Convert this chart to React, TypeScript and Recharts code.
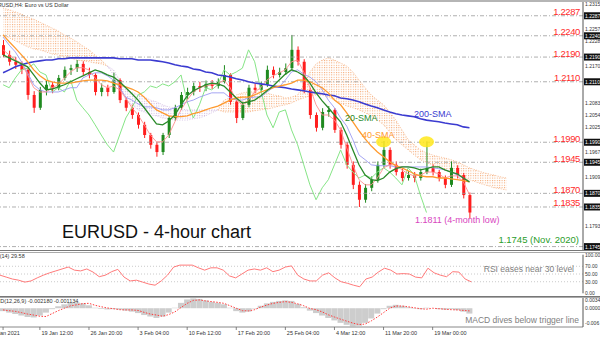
import React from 'react';
import { ComposedChart, Bar, Line, Area, XAxis, YAxis, ReferenceLine, ReferenceDot } from 'recharts';

// 4h candles grouped by 4 (one slot = 16h)
const opens = [1.2218, 1.2195, 1.2179, 1.2172, 1.2160, 1.2101, 1.2071, 1.2113, 1.2125, 1.2118,
  1.2141, 1.2160, 1.2164, 1.2174, 1.2155, 1.2148, 1.2108, 1.2118, 1.2108, 1.2136,
  1.2089, 1.2071, 1.2054, 1.2031, 1.2007, 1.1984, 1.1967, 1.2007, 1.2047, 1.2071,
  1.2101, 1.2108, 1.2122, 1.2118, 1.2127, 1.2122, 1.2132, 1.2148, 1.2085, 1.2047,
  1.2078, 1.2118, 1.2113, 1.2125, 1.2160, 1.2148, 1.2155, 1.2164, 1.2207, 1.2179,
  1.2113, 1.2054, 1.2024, 1.2061, 1.2066, 1.2019, 1.1984, 1.1937, 1.1890, 1.1855,
  1.1883, 1.1902, 1.1937, 1.1972, 1.1937, 1.1920, 1.1906, 1.1913, 1.1906, 1.1920,
  1.1930, 1.1920, 1.1906, 1.1890, 1.1930, 1.1913, 1.1866];
const highs = [1.2230, 1.2205, 1.2190, 1.2180, 1.2165, 1.2110, 1.2120, 1.2135, 1.2132, 1.2148,
  1.2168, 1.2172, 1.2183, 1.2180, 1.2165, 1.2152, 1.2128, 1.2125, 1.2153, 1.2140,
  1.2095, 1.2078, 1.2060, 1.2038, 1.2012, 1.1990, 1.2012, 1.2052, 1.2078, 1.2108,
  1.2118, 1.2130, 1.2132, 1.2135, 1.2136, 1.2140, 1.2171, 1.2152, 1.2090, 1.2085,
  1.2125, 1.2128, 1.2132, 1.2170, 1.2168, 1.2165, 1.2175, 1.2242, 1.2215, 1.2185,
  1.2118, 1.2060, 1.2070, 1.2075, 1.2070, 1.2025, 1.1990, 1.1945, 1.1898, 1.1892,
  1.1910, 1.1945, 1.1993, 1.1978, 1.1945, 1.1928, 1.1922, 1.1920, 1.1928, 1.1992,
  1.1938, 1.1925, 1.1912, 1.1945, 1.1936, 1.1918, 1.1872];
const lows = [1.2190, 1.2170, 1.2162, 1.2150, 1.2090, 1.2059, 1.2066, 1.2100, 1.2105, 1.2112,
  1.2135, 1.2148, 1.2155, 1.2148, 1.2140, 1.2100, 1.2098, 1.2098, 1.2104, 1.2082,
  1.2063, 1.2045, 1.2022, 1.2000, 1.1975, 1.1956, 1.1960, 1.2000, 1.2040, 1.2066,
  1.2092, 1.2100, 1.2108, 1.2110, 1.2115, 1.2116, 1.2128, 1.2078, 1.2035, 1.2042,
  1.2072, 1.2105, 1.2106, 1.2120, 1.2140, 1.2142, 1.2148, 1.2160, 1.2170, 1.2105,
  1.2045, 1.2015, 1.2018, 1.2050, 1.2012, 1.1975, 1.1928, 1.1880, 1.1838, 1.1848,
  1.1875, 1.1895, 1.1930, 1.1928, 1.1912, 1.1898, 1.1900, 1.1896, 1.1900, 1.1915,
  1.1912, 1.1898, 1.1882, 1.1885, 1.1905, 1.1858, 1.1811];
const closes = [1.2195, 1.2179, 1.2172, 1.2160, 1.2101, 1.2071, 1.2113, 1.2125, 1.2118, 1.2141,
  1.2160, 1.2164, 1.2174, 1.2155, 1.2148, 1.2108, 1.2118, 1.2108, 1.2136, 1.2089,
  1.2071, 1.2054, 1.2031, 1.2007, 1.1984, 1.1967, 1.2007, 1.2047, 1.2071, 1.2101,
  1.2108, 1.2122, 1.2118, 1.2127, 1.2122, 1.2132, 1.2148, 1.2085, 1.2047, 1.2078,
  1.2118, 1.2113, 1.2125, 1.2160, 1.2148, 1.2155, 1.2164, 1.2207, 1.2179, 1.2113,
  1.2054, 1.2024, 1.2061, 1.2066, 1.2019, 1.1984, 1.1937, 1.1890, 1.1855, 1.1883,
  1.1902, 1.1937, 1.1972, 1.1937, 1.1920, 1.1906, 1.1913, 1.1906, 1.1920, 1.1930,
  1.1920, 1.1906, 1.1890, 1.1930, 1.1913, 1.1866, 1.1825];

const sma20 = [1.2195, 1.2188, 1.2181, 1.2174, 1.2167, 1.2148, 1.2129, 1.2113, 1.2115, 1.2120,
  1.2125, 1.2132, 1.2139, 1.2146, 1.2153, 1.2160, 1.2155, 1.2148, 1.2143, 1.2132,
  1.2118, 1.2104, 1.2089, 1.2071, 1.2052, 1.2033, 1.2031, 1.2040, 1.2054, 1.2078,
  1.2099, 1.2111, 1.2118, 1.2125, 1.2129, 1.2127, 1.2122, 1.2108, 1.2094, 1.2082,
  1.2085, 1.2089, 1.2099, 1.2111, 1.2122, 1.2136, 1.2150, 1.2160, 1.2155, 1.2146,
  1.2129, 1.2106, 1.2087, 1.2071, 1.2054, 1.2038, 1.2007, 1.1972, 1.1937, 1.1913,
  1.1902, 1.1900, 1.1906, 1.1920, 1.1928, 1.1932, 1.1932, 1.1930, 1.1925, 1.1928,
  1.1932, 1.1932, 1.1925, 1.1920, 1.1916, 1.1906, 1.1897];
const sma40 = [1.2242, 1.2226, 1.2211, 1.2195, 1.2179, 1.2160, 1.2146, 1.2136, 1.2132, 1.2129,
  1.2129, 1.2129, 1.2132, 1.2134, 1.2136, 1.2136, 1.2136, 1.2134, 1.2129, 1.2125,
  1.2120, 1.2115, 1.2108, 1.2096, 1.2080, 1.2066, 1.2059, 1.2052, 1.2050, 1.2050,
  1.2052, 1.2057, 1.2061, 1.2066, 1.2071, 1.2075, 1.2082, 1.2089, 1.2094, 1.2096,
  1.2096, 1.2101, 1.2108, 1.2113, 1.2118, 1.2122, 1.2125, 1.2129, 1.2136, 1.2136,
  1.2132, 1.2125, 1.2118, 1.2106, 1.2089, 1.2078, 1.2059, 1.2038, 1.2017, 1.1998,
  1.1981, 1.1967, 1.1956, 1.1944, 1.1935, 1.1930, 1.1923, 1.1916, 1.1911, 1.1909,
  1.1909, 1.1906, 1.1906, 1.1904, 1.1902, 1.1900, 1.1897];
const sma200 = [1.2153, 1.2160, 1.2167, 1.2172, 1.2176, 1.2179, 1.2181, 1.2183, 1.2183, 1.2186,
  1.2186, 1.2188, 1.2188, 1.2188, 1.2188, 1.2188, 1.2188, 1.2188, 1.2188, 1.2186,
  1.2186, 1.2186, 1.2183, 1.2183, 1.2183, 1.2181, 1.2179, 1.2176, 1.2172, 1.2169,
  1.2167, 1.2162, 1.2160, 1.2155, 1.2153, 1.2148, 1.2146, 1.2143, 1.2139, 1.2136,
  1.2132, 1.2129, 1.2127, 1.2125, 1.2122, 1.2120, 1.2118, 1.2115, 1.2113, 1.2111,
  1.2108, 1.2106, 1.2104, 1.2101, 1.2099, 1.2094, 1.2092, 1.2089, 1.2085, 1.2080,
  1.2075, 1.2071, 1.2066, 1.2061, 1.2057, 1.2054, 1.2052, 1.2050, 1.2045, 1.2042,
  1.2040, 1.2038, 1.2035, 1.2033, 1.2031, 1.2026, 1.2024];

// ichimoku
const tenkan = [1.2207, 1.2195, 1.2183, 1.2176, 1.2148, 1.2118, 1.2108, 1.2108, 1.2118, 1.2125,
  1.2141, 1.2155, 1.2165, 1.2165, 1.2160, 1.2141, 1.2125, 1.2118, 1.2122, 1.2113,
  1.2094, 1.2071, 1.2054, 1.2031, 1.2007, 1.1991, 1.1991, 1.2007, 1.2038, 1.2066,
  1.2089, 1.2108, 1.2118, 1.2122, 1.2125, 1.2127, 1.2136, 1.2118, 1.2089, 1.2078,
  1.2089, 1.2108, 1.2118, 1.2136, 1.2146, 1.2153, 1.2160, 1.2179, 1.2183, 1.2155,
  1.2118, 1.2078, 1.2054, 1.2054, 1.2042, 1.2019, 1.1977, 1.1937, 1.1902, 1.1890,
  1.1890, 1.1906, 1.1930, 1.1937, 1.1937, 1.1925, 1.1916, 1.1911, 1.1913, 1.1920,
  1.1920, 1.1916, 1.1906, 1.1911, 1.1911, 1.1897, 1.1867];
const kijun = [1.2237, 1.2218, 1.2202, 1.2179, 1.2153, 1.2125, 1.2113, 1.2108, 1.2108, 1.2108,
  1.2113, 1.2118, 1.2118, 1.2141, 1.2148, 1.2153, 1.2153, 1.2146, 1.2136, 1.2118,
  1.2096, 1.2089, 1.2080, 1.2073, 1.2073, 1.2071, 1.2066, 1.2066, 1.2071, 1.2078,
  1.2085, 1.2089, 1.2096, 1.2101, 1.2106, 1.2106, 1.2106, 1.2094, 1.2089, 1.2089,
  1.2094, 1.2096, 1.2096, 1.2108, 1.2118, 1.2120, 1.2136, 1.2155, 1.2160, 1.2150,
  1.2143, 1.2132, 1.2113, 1.2089, 1.2071, 1.2047, 1.2028, 1.1996, 1.1960, 1.1949,
  1.1937, 1.1935, 1.1935, 1.1935, 1.1932, 1.1932, 1.1932, 1.1932, 1.1932, 1.1932,
  1.1930, 1.1928, 1.1925, 1.1920, 1.1913, 1.1906, 1.1897];
const spanA = [1.2305, 1.2301, 1.2296, 1.2291, 1.2284, 1.2279, 1.2272, 1.2265, 1.2258, 1.2251,
  1.2242, 1.2235, 1.2226, 1.2216, 1.2207, 1.2195, 1.2183, 1.2169, 1.2148, 1.2118,
  1.2089, 1.2078, 1.2066, 1.2061, 1.2054, 1.2052, 1.2047, 1.2045, 1.2042, 1.2042,
  1.2042, 1.2045, 1.2047, 1.2052, 1.2059, 1.2066, 1.2089, 1.2094, 1.2101, 1.2106,
  1.2108, 1.2108, 1.2108, 1.2106, 1.2101, 1.2099, 1.2094, 1.2096, 1.2101, 1.2125,
  1.2155, 1.2174, 1.2183, 1.2188, 1.2183, 1.2176, 1.2169, 1.2155, 1.2136, 1.2118,
  1.2101, 1.2089, 1.2078, 1.2061, 1.2042, 1.2019, 1.1996, 1.1984, 1.1972, 1.1965,
  1.1960, 1.1956, 1.1953, 1.1949, 1.1944, 1.1937, 1.1930, 1.1925, 1.1920, 1.1916,
  1.1913, 1.1909, 1.1906];
const spanB = [1.2242, 1.2235, 1.2228, 1.2221, 1.2214, 1.2209, 1.2207, 1.2202, 1.2197, 1.2195,
  1.2190, 1.2188, 1.2183, 1.2181, 1.2179, 1.2176, 1.2174, 1.2169, 1.2160, 1.2136,
  1.2113, 1.2108, 1.2101, 1.2096, 1.2089, 1.2085, 1.2078, 1.2073, 1.2071, 1.2068,
  1.2066, 1.2066, 1.2066, 1.2066, 1.2066, 1.2066, 1.2061, 1.2061, 1.2061, 1.2061,
  1.2061, 1.2064, 1.2066, 1.2068, 1.2071, 1.2075, 1.2078, 1.2082, 1.2089, 1.2094,
  1.2099, 1.2101, 1.2101, 1.2096, 1.2089, 1.2082, 1.2075, 1.2071, 1.2066, 1.2059,
  1.2052, 1.2042, 1.2031, 1.2014, 1.1996, 1.1984, 1.1972, 1.1960, 1.1949, 1.1942,
  1.1937, 1.1930, 1.1925, 1.1920, 1.1913, 1.1906, 1.1902, 1.1897, 1.1892, 1.1888,
  1.1883, 1.1881, 1.1878];

const rsi = [47, 42, 37, 34, 29, 32, 40, 47, 53, 58,
  63, 68, 60, 58, 63, 55, 43, 47, 56, 62,
  42, 32, 34, 29, 24, 21, 32, 47, 68, 73,
  73, 73, 66, 60, 66, 66, 60, 45, 40, 50,
  60, 63, 60, 66, 56, 60, 68, 71, 47, 37,
  32, 32, 47, 53, 40, 30, 26, 21, 17, 37,
  42, 55, 65, 60, 50, 51, 50, 42, 40, 65,
  53, 47, 43, 56, 55, 37, 29.58];
const macd = [-0.0012, -0.0018, -0.0024, -0.0030, -0.0036, -0.0038, -0.0030, -0.0018, -0.0004, 0.0008,
  0.0016, 0.0022, 0.0024, 0.0020, 0.0012, 0.0002, -0.0003, -0.0005, -0.0004, -0.0006,
  -0.0010, -0.0014, -0.0020, -0.0028, -0.0034, -0.0040, -0.0034, -0.0018, 0.0002, 0.0022,
  0.0036, 0.0040, 0.0038, 0.0032, 0.0026, 0.0022, 0.0016, 0.0002, -0.0012, -0.0018,
  -0.0014, -0.0002, 0.0010, 0.0020, 0.0026, 0.0030, 0.0032, 0.0030, 0.0018, 0.0004,
  -0.0010, -0.0020, -0.0030, -0.0040, -0.0050, -0.0060, -0.0068, -0.0074, -0.0072, -0.0060,
  -0.0042, -0.0022, -0.0004, 0.0010, 0.0014, 0.0010, 0.0004, -0.0002, -0.0004, 0.0002,
  0.0000, -0.0004, -0.0006, -0.0004, -0.0008, -0.0014, -0.0022];
const signal = [-0.0007, -0.0010, -0.0013, -0.0018, -0.0024, -0.0028, -0.0033, -0.0034, -0.0022, -0.0010,
  0.0000, 0.0010, 0.0014, 0.0019, 0.0020, 0.0012, 0.0006, 0.0001, -0.0002, -0.0006,
  -0.0007, -0.0007, -0.0009, -0.0017, -0.0024, -0.0028, -0.0033, -0.0026, -0.0015, 0.0003,
  0.0020, 0.0032, 0.0034, 0.0030, 0.0027, 0.0024, 0.0020, 0.0010, 0.0000, -0.0010,
  -0.0011, -0.0006, 0.0005, 0.0013, 0.0020, 0.0024, 0.0027, 0.0024, 0.0018, 0.0010,
  -0.0001, -0.0006, -0.0015, -0.0027, -0.0036, -0.0045, -0.0053, -0.0061, -0.0067, -0.0065,
  -0.0052, -0.0036, -0.0018, 0.0000, 0.0009, 0.0009, 0.0006, 0.0002, -0.0002, -0.0004,
  0.0000, -0.0002, -0.0004, -0.0006, -0.0007, -0.0009, -0.0011];

const dateTicks = [0, 6, 14, 22, 30, 38, 46, 54, 62, 70];
const dateLabels = ['14 Jan 2021', '19 Jan 12:00', '26 Jan 20:00', '3 Feb 04:00', '10 Feb 12:00',
  '17 Feb 20:00', '25 Feb 04:00', '4 Mar 12:00', '11 Mar 20:00', '19 Mar 00:00'];

// horizontal levels; the last one is labelled separately in green
const levelPrices = [1.2287, 1.2240, 1.2190, 1.2132, 1.1990, 1.1943, 1.1870, 1.1838, 1.1745];
const levelLabels = ['1.2287', '1.2240', '1.2190', '1.2110', '1.1990', '1.1945', '1.1870', '1.1835', ''];
const axisBoxLabels = ['1.2287', '1.2240', '1.2190', '1.2110', '1.1990', '1.1945', '1.1870', '1.1835', '1.1745'];
const priceTicks = [1.2315, 1.2257, 1.2228, 1.2170, 1.2083, 1.2054, 1.2025, 1.1967,
  1.1909, 1.1793];
const peaks = [62, 69];
const peakPrice = 1.1991;
const rsiTicks = [0, 30, 50, 70, 100];
const macdTicks = [-0.006, 0, 0.0034];

const SLOTS = 95;
const CHIKOU_SHIFT = 7;

const rows = Array.from({ length: SLOTS }, (_, i) => {
  const has = i < closes.length;
  const a = spanA[i];
  const b = spanB[i];
  const cloud = a !== undefined && b !== undefined;
  return {
    i,
    open: has ? opens[i] : null,
    high: has ? highs[i] : null,
    low: has ? lows[i] : null,
    close: has ? closes[i] : null,
    range: has ? [lows[i], highs[i]] : null,
    sma20: has ? sma20[i] : null,
    sma40: has ? sma40[i] : null,
    sma200: has ? sma200[i] : null,
    tenkan: has ? tenkan[i] : null,
    kijun: has ? kijun[i] : null,
    chikou: i + CHIKOU_SHIFT < closes.length ? closes[i + CHIKOU_SHIFT] : null,
    cloudUp: cloud && a >= b ? [b, a] : null,
    cloudDown: cloud && b >= a ? [a, b] : null,
    rsi: has ? rsi[i] : null,
    macd: has ? macd[i] : null,
    signal: has ? signal[i] : null,
  };
});

const font = "'Liberation Sans', Arial, sans-serif";

const Candle = (props: any) => {
  const { x, y, width, height, payload } = props;
  if (!payload || payload.open == null) return null;
  const { open, close, high, low } = payload;
  const top = Math.min(y, y + height);
  const h = Math.abs(height);
  const k = high === low ? 0 : h / (high - low);
  const yo = top + (high - open) * k;
  const yc = top + (high - close) * k;
  const col = close >= open ? '#1f8a1f' : '#ff1e1e';
  const cx = x + width / 2;
  return (
    <g>
      <line x1={cx} x2={cx} y1={top} y2={top + h} stroke={col} strokeWidth={1} />
      <rect x={x} y={Math.min(yo, yc)} width={width} height={Math.max(1, Math.abs(yc - yo))} fill={col} />
    </g>
  );
};

const PriceTick = (props: any) => {
  const { y, payload } = props;
  const v = payload.value;
  const li = levelPrices.indexOf(v);
  if (li >= 0) {
    return (
      <g>
        <rect x={584} y={y - 3.5} width={16} height={7} fill="#111" />
        <text x={585} y={y + 2} fontSize={5} fill="#fff">{axisBoxLabels[li]}</text>
      </g>
    );
  }
  return <text x={585} y={y + 2} fontSize={5} fill="#333">{v.toFixed(4)}</text>;
};

const SmallTick = (props: any) => {
  const { y, payload, fmt } = props;
  return <text x={585} y={y + 2} fontSize={5} fill="#333">{fmt(payload.value)}</text>;
};

const DateTick = (props: any) => {
  const { x, payload } = props;
  const k = dateTicks.indexOf(payload.value);
  if (k < 0) return null;
  const lx = k === 0 ? x - 13.5 : x + 1.5;
  return (
    <g>
      <line x1={x} x2={x} y1={30} y2={33} stroke="#666" strokeWidth={0.8} />
      <text x={lx} y={37.5} fontSize={5.5} fill="#333">{dateLabels[k]}</text>
    </g>
  );
};

const LevelLabel = (props: any) => {
  const { viewBox, text } = props;
  if (!viewBox || !text) return null;
  return (
    <text x={viewBox.x + viewBox.width - 3} y={viewBox.y - 0.5} textAnchor="end" fontSize={9.5}
      letterSpacing={-0.4} fill="#ff2a2a">{text}</text>
  );
};

const Ellipse = (props: any) => (
  <ellipse cx={props.cx} cy={props.cy} rx={7.5} ry={5.5} fill="#ffe81a" fillOpacity={0.85} />
);

export default function App() {
  return (
    <div style={{ position: 'relative', width: 600, height: 337, background: '#fff', overflow: 'hidden', fontFamily: font }}>
      <style>{'body{margin:0}'}</style>

      <div style={{ position: 'absolute', left: 0, top: 0 }}>
        <ComposedChart width={600} height={250} data={rows} margin={{ top: 0, right: 0, bottom: 0, left: 0 }}>
          <defs>
            <pattern id="peachDots" width="2.4" height="2.4" patternUnits="userSpaceOnUse">
              <rect width="1" height="1" fill="#f4a46c" />
            </pattern>
            <pattern id="lilacDots" width="2.4" height="2.4" patternUnits="userSpaceOnUse">
              <rect width="1" height="1" fill="#c9b0dc" />
            </pattern>
          </defs>
          <XAxis dataKey="i" hide />
          <YAxis orientation="right" width={17} domain={[1.1737, 1.2324]} allowDataOverflow
            ticks={[...priceTicks, ...levelPrices]} interval={0} tick={<PriceTick />}
            tickLine={false} axisLine={{ stroke: '#555' }} />
          {levelPrices.map((p, k) => (
            <ReferenceLine key={p} y={p} stroke="#9a9a9a" strokeWidth={0.8} strokeDasharray="4 2 1 2"
              label={<LevelLabel text={levelLabels[k]} />} />
          ))}
          <Area dataKey={(d: any) => d.cloudUp} stroke="#f4a46c" strokeWidth={0.7} strokeDasharray="1 1.5"
            fill="url(#peachDots)" fillOpacity={1} isAnimationActive={false} />
          <Area dataKey={(d: any) => d.cloudDown} stroke="#c9b0dc" strokeWidth={0.7} strokeDasharray="1 1.5"
            fill="url(#lilacDots)" fillOpacity={1} isAnimationActive={false} />
          <Line dataKey="chikou" stroke="#86e586" strokeWidth={1} dot={false} isAnimationActive={false} />
          <Line dataKey="kijun" stroke="#9b9bf2" strokeWidth={0.9} dot={false} isAnimationActive={false} />
          <Line dataKey="tenkan" stroke="#ff9090" strokeWidth={0.9} dot={false} isAnimationActive={false} />
          {peaks.map((p) => (
            <ReferenceDot key={p} x={p} y={peakPrice} r={6} shape={<Ellipse />} />
          ))}
          <Bar dataKey={(d: any) => d.range} shape={<Candle />} barSize={3} isAnimationActive={false} />
          <Line dataKey="sma200" stroke="#3b3bd0" strokeWidth={1.6} dot={false} isAnimationActive={false} />
          <Line dataKey="sma40" stroke="#ff9a2e" strokeWidth={1.3} dot={false} isAnimationActive={false} />
          <Line dataKey="sma20" stroke="#2a8a2a" strokeWidth={1.3} dot={false} isAnimationActive={false} />
        </ComposedChart>
      </div>

      <div style={{ position: 'absolute', left: 0, top: 252 }}>
        <ComposedChart width={600} height={44} data={rows} margin={{ top: 2.7, right: 0, bottom: 2.7, left: 0 }}>
          <XAxis dataKey="i" hide />
          <YAxis orientation="right" width={17} domain={[0, 100]} ticks={rsiTicks} interval={0}
            tick={<SmallTick fmt={(v: number) => v.toFixed(2)} />} tickLine={false} axisLine={{ stroke: '#555' }} />
          {[30, 50, 70].map((v) => (
            <ReferenceLine key={v} y={v} stroke="#bdbdbd" strokeWidth={0.8} strokeDasharray="1 2" />
          ))}
          <Line dataKey="rsi" stroke="#ff7a7a" strokeWidth={1} dot={false} isAnimationActive={false} />
        </ComposedChart>
      </div>

      <div style={{ position: 'absolute', left: 0, top: 297 }}>
        <ComposedChart width={600} height={40} data={rows} margin={{ top: 0, right: 0, bottom: 0, left: 0 }}>
          <XAxis dataKey="i" ticks={dateTicks} interval={0} height={10} tick={<DateTick />}
            tickLine={false} axisLine={{ stroke: '#888' }} />
          <YAxis orientation="right" width={17} domain={[-0.0077, 0.0046]} ticks={macdTicks} interval={0}
            tick={<SmallTick fmt={(v: number) => (v === 0 ? '0.0000' : v.toFixed(4).replace('-0.0060', '-0.006'))} />}
            tickLine={false} axisLine={{ stroke: '#555' }} />
          <Bar dataKey="macd" fill="#cdcdcd" barSize={6} isAnimationActive={false} />
          <Line dataKey="signal" stroke="#ff3b3b" strokeWidth={1} strokeDasharray="1.5 1.5" dot={false} isAnimationActive={false} />
        </ComposedChart>
      </div>

      <div style={{ position: 'absolute', left: 0, top: 0, width: 600, height: 2, background: '#b5b5b5' }} />
      <div style={{ position: 'absolute', left: 0, top: 250, width: 600, height: 1, background: '#777' }} />
      <div style={{ position: 'absolute', left: 0, top: 251.5, width: 600, height: 1, background: '#aaa' }} />
      <div style={{ position: 'absolute', left: 0, top: 295.5, width: 600, height: 1, background: '#777' }} />
      <div style={{ position: 'absolute', left: 0, top: 297, width: 600, height: 1, background: '#aaa' }} />

      <svg width={600} height={337} style={{ position: 'absolute', left: 0, top: 0, pointerEvents: 'none', fontFamily: font }}>
        <text x={-10} y={7} fontSize={5.5} fill="#333">EURUSD,H4:  Euro vs US Dollar</text>
        <text x={62} y={238} fontSize={18} fill="#111">EURUSD - 4-hour chart</text>
        <text x={415} y={223} fontSize={9} fill="#d845c0">1.1811 (4-month low)</text>
        <text x={579} y={243} fontSize={9.5} fill="#2a9d2a" textAnchor="end">1.1745 (Nov. 2020)</text>
        <text x={345} y={121} fontSize={9} fill="#2a8a2a">20-SMA</text>
        <text x={362} y={138} fontSize={9} fill="#ff9a2e">40-SMA</text>
        <text x={414} y={117} fontSize={9} fill="#3b3bd0">200-SMA</text>
        <text x={574} y={272} fontSize={8.5} fill="#808080" textAnchor="end">RSI eases near 30 level</text>
        <text x={579} y={323} fontSize={8.5} fill="#808080" textAnchor="end">MACD dives below trigger line</text>
        <text x={-9.5} y={258} fontSize={5.5} fill="#333">RSI(14) 29.58</text>
        <text x={-12} y={303} fontSize={5.5} fill="#333">MACD(12,26,9) -0.002180 -0.001134</text>
      </svg>
    </div>
  );
}
